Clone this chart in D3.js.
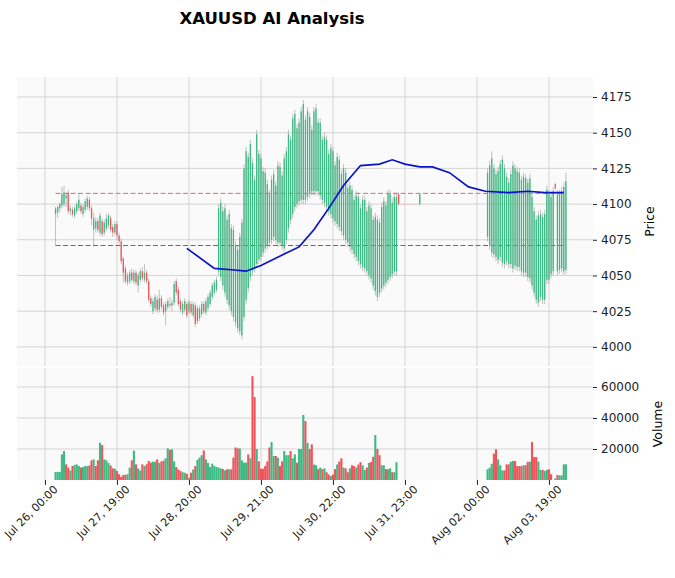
<!DOCTYPE html>
<html>
<head>
<meta charset="utf-8">
<script src="https://cdn.jsdelivr.net/npm/d3@7"></script>
<style>
body { margin: 0; background: #fff; font-family: "DejaVu Sans", sans-serif; }
</style>
</head>
<body>
<script>
let WIDTH = 675;
let HEIGHT = 578;

// bar index of first entry, x tick labels every 34 bars
const START = 5;
const tickIdx = [0, 34, 68, 102, 136, 170, 204, 238];
const tickLabels = ["Jul 26, 00:00", "Jul 27, 19:00", "Jul 28, 20:00", "Jul 29, 21:00",
                    "Jul 30, 22:00", "Jul 31, 23:00", "Aug 02, 00:00", "Aug 03, 19:00"];
const priceTicks = [4000, 4025, 4050, 4075, 4100, 4125, 4150, 4175];
const volTicks = [20000, 40000, 60000];

// i5..i81
const opens1 = [4093,4094,4097,4099,4100,4104,4108,4095,4096,4092, 4095,4097,4099,4093,4096,4098,4103,4097,4082,4083,
  4088,4080,4088,4080,4083,4085,4090,4084,4080,4086, 4078,4074,4062,4055,4045,4046,4052,4046,4052,4043,
  4047,4053,4047,4052,4046,4034,4025,4027,4033,4026, 4034,4029,4025,4028,4030,4029,4031,4046,4040,4032,
  4024,4026,4030,4025,4030,4022,4029,4027,4020,4023, 4030,4024,4027,4030,4035,4038,4040];
const highs1 = [4098,4099,4101,4112,4113,4108,4110,4099,4098,4099, 4102,4107,4101,4100,4104,4106,4105,4099,4094,4091,
  4090,4094,4090,4089,4093,4094,4092,4086,4088,4088, 4080,4076,4063,4057,4052,4054,4055,4054,4054,4052,
  4055,4056,4058,4054,4048,4036,4034,4037,4036,4040, 4036,4031,4032,4034,4035,4033,4046,4048,4042,4034,
  4032,4034,4032,4033,4032,4032,4031,4029,4029,4032, 4032,4034,4037,4040,4045,4047,4049];
const lows1 = [4071,4090,4094,4097,4098,4098,4093,4092,4091,4090, 4093,4095,4093,4091,4094,4096,4095,4085,4071,4080,
  4080,4078,4077,4078,4081,4083,4080,4077,4078,4075, 4072,4058,4045,4044,4043,4044,4045,4044,4043,4038,
  4045,4046,4045,4044,4031,4028,4023,4025,4024,4024, 4026,4022,4015,4026,4027,4025,4029,4036,4028,4024,
  4022,4024,4020,4023,4022,4020,4014,4016,4018,4021, 4023,4022,4025,4028,4033,4036,4038];
const closes1 = [4097,4098,4100,4107,4108,4106,4095,4097,4093,4097, 4100,4103,4095,4098,4102,4104,4097,4090,4090,4088,
  4082,4092,4079,4087,4090,4092,4082,4080,4086,4078, 4074,4060,4052,4046,4050,4052,4047,4052,4045,4050,
  4053,4048,4052,4046,4033,4030,4032,4035,4026,4034, 4028,4024,4030,4032,4029,4031,4044,4038,4030,4026,
  4030,4032,4022,4031,4024,4030,4016,4018,4027,4030, 4025,4032,4035,4038,4043,4045,4047];

// i82..i166
const opens2 = [4053,4049,4043,4038,4033,4029,4025,4021,4017,4013, 4011,4008,4021,4033,4041,4049,4053,4055,4058,4061,
  4063,4066,4069,4071,4073,4075,4077,4075,4073,4073, 4071,4069,4075,4083,4089,4093,4098,4100,4102,4103,
  4103,4103,4105,4107,4109,4109,4109,4109,4106,4103, 4101,4098,4095,4093,4090,4088,4086,4084,4081,4078,
  4075,4073,4070,4068,4065,4063,4060,4058,4056,4055, 4053,4050,4048,4043,4039,4035,4038,4041,4043,4045,
  4047,4049,4051,4053,4053];
const highs2 = [4100,4104,4098,4100,4092,4096,4086,4085,4074,4071, 4080,4090,4128,4140,4136,4145,4132,4120,4152,4138,
  4135,4126,4125,4117,4110,4120,4124,4116,4130,4129, 4123,4135,4140,4152,4148,4163,4166,4156,4160,4168,
  4173,4162,4168,4164,4155,4168,4170,4160,4160,4148, 4150,4148,4138,4142,4140,4130,4136,4134,4124,4128,
  4125,4114,4116,4113,4106,4109,4108,4100,4106,4106, 4098,4102,4100,4092,4094,4092,4090,4101,4105,4102,
  4110,4110,4104,4108,4108];
const lows2 = [4050,4046,4040,4035,4030,4026,4022,4018,4014,4010, 4008,4005,4018,4030,4038,4046,4050,4052,4055,4058,
  4060,4063,4066,4068,4070,4072,4074,4072,4070,4070, 4068,4066,4072,4080,4086,4090,4095,4097,4099,4100,
  4100,4100,4102,4104,4106,4106,4106,4106,4103,4100, 4098,4095,4092,4090,4087,4085,4083,4081,4078,4075,
  4072,4070,4067,4065,4062,4060,4057,4055,4053,4052, 4050,4047,4045,4040,4036,4032,4035,4038,4040,4042,
  4044,4046,4048,4050,4050];
const closes2 = [4097,4101,4095,4097,4089,4093,4083,4082,4071,4068, 4077,4087,4125,4137,4133,4142,4129,4117,4149,4135,
  4132,4123,4122,4114,4107,4117,4121,4113,4127,4126, 4120,4132,4137,4149,4145,4160,4163,4153,4157,4165,
  4170,4159,4165,4161,4152,4165,4167,4157,4157,4145, 4147,4145,4135,4139,4137,4127,4133,4131,4121,4125,
  4122,4111,4113,4110,4103,4106,4105,4097,4103,4103, 4095,4099,4097,4089,4091,4089,4087,4098,4102,4099,
  4107,4107,4101,4105,4105];

// i167..i177 (flat, no volume), i178..i208 no data
const opens3 = [4107,4100,4100,4100,4100,4100,4100,4100,4100,4100,4100];
const highs3 = [4108,4100,4100,4100,4100,4100,4100,4100,4100,4100,4107];
const lows3 = [4099,4100,4100,4100,4100,4100,4100,4100,4100,4100,4099];
const closes3 = [4100,4100,4100,4100,4100,4100,4100,4100,4100,4100,4107];
const GAP = 31;

// i209..i246
const opens4 = [4077,4071,4066,4065,4063,4061,4063,4059,4058,4060, 4058,4058,4055,4057,4056,4056,4053,4052,4052,4049,
  4048,4043,4038,4033,4031,4035,4033,4033,4047,4047, 4051,4053,4114,4053,4054,4055,4053,4054];
const highs4 = [4125,4130,4137,4128,4124,4126,4131,4134,4128,4122, 4118,4124,4130,4128,4126,4125,4120,4122,4121,4118,
  4121,4108,4098,4092,4095,4096,4094,4096,4113,4110, 4108,4112,4115,4110,4110,4112,4115,4122];
const lows4 = [4074,4068,4063,4062,4060,4058,4060,4056,4055,4057, 4055,4055,4052,4054,4053,4053,4050,4049,4049,4046,
  4045,4040,4035,4030,4028,4032,4030,4030,4044,4044, 4048,4050,4110,4050,4051,4052,4050,4051];
const closes4 = [4122,4127,4132,4125,4121,4123,4128,4131,4125,4119, 4115,4121,4127,4125,4123,4122,4117,4119,4118,4115,
  4118,4105,4095,4089,4092,4093,4091,4093,4110,4107, 4105,4109,4111,4107,4107,4109,4112,4116];

const volumes = [
  5200,5200,5200,16500,18700,10100,8000,6200,9000,9700, 10100,9000,8000,8400,9000,9000,9400,12700,13300,9000,
  12700,24000,22500,13300,12700,11000,9400,7500,7300,5800, 3700,2000,3300,3300,3700,8000,12700,19000,10100,7500,
  6200,10100,9000,10100,12300,11200,11800,11800,13300,11000, 12000,12500,14000,20400,19500,19800,12000,8400,6800,5800,
  5000,4700,4000,1500,4700,6800,9000,13000,14500,16000,
  19000,13300,11000,8400,10500,9000,8500,8000,7500,7100, 6200,6900,6900,6900,14400,21000,20400,20400,12700,11200,
  11200,16500,14000,67000,53500,20000,12000,7300,7300,9000, 12000,21000,24500,15500,15500,14400,9000,12000,18700,16000,
  16000,18700,14000,16500,11200,20000,20000,42000,38000,24000, 20000,23000,10000,9500,7000,8000,7000,7500,5000,3500,
  2500,3500,7000,10000,12000,14000,8000,7500,5000,7500, 9500,9000,8000,10000,11500,9500,6500,8000,11000,11600,
  15000,29000,20000,16000,9500,9500,7000,7000,7500,5000, 5000,11500,
  0,0,0,0,0,0,0,0,0,0,0,
  6900,8000,10500,17000,19800,13300,9500,6200,6200,10100, 10100,11800,12300,12300,9000,9000,9000,9500,9500,11800,
  11800,24500,14800,14800,11800,6500,6500,5800,6500,6900, 3700,0,1000,3200,3000,3000,10100,10100];

// moving average line
const maIdx = [67, 80, 88, 95, 102, 113, 120, 127, 134, 141, 149, 158, 164, 170, 177, 183, 191, 200, 208, 219, 228, 236, 245];
const maVal = [4069, 4055, 4054, 4053, 4057, 4065, 4070, 4082, 4097, 4113, 4127, 4128, 4131, 4128, 4126, 4126, 4122, 4112, 4109, 4108, 4109, 4108, 4108];

const hlines = [4107.5, 4071];

// assemble candles
const nulls = n => new Array(n).fill(null);
const O = opens1.concat(opens2, opens3, nulls(GAP), opens4);
const H = highs1.concat(highs2, highs3, nulls(GAP), highs4);
const L = lows1.concat(lows2, lows3, nulls(GAP), lows4);
const C = closes1.concat(closes2, closes3, nulls(GAP), closes4);
const V = volumes.slice(0, 173).concat(nulls(GAP), volumes.slice(173));

var candles = [];
var prevClose = null;
O.forEach(function(o, k) {
  var d = {i: START + k, o: o, h: H[k], l: L[k], c: C[k], v: V[k]};
  if (o != null) {
    d.vup = prevClose == null ? d.c >= d.o : d.c >= prevClose;
    prevClose = d.c;
  }
  candles.push(d);
});

var svg = d3.select("body").append("svg").attr("width", WIDTH).attr("height", HEIGHT);

var left = 17, right = 593;
var pTop = 77, pBot = 366, vTop = 368, vBot = 480;
var x = d3.scaleLinear().domain([-13.2, 258.8]).range([left, right]);
var yP = d3.scaleLinear().domain([3986.6, 4189]).range([pBot, pTop]);
var yV = d3.scaleLinear().domain([0, 72258]).range([vBot, vTop]);

var UP = "#3dba84", DOWN = "#f0545a", GRID = "#d0d0d0";

svg.append("text").attr("x", 272).attr("y", 24).attr("text-anchor", "middle")
  .attr("font-size", 16.5).attr("font-weight", "bold").text("XAUUSD AI Analysis");

[[pTop, pBot], [vTop, vBot]].forEach(function(p) {
  svg.append("rect").attr("x", left).attr("y", p[0]).attr("width", right - left)
    .attr("height", p[1] - p[0]).attr("fill", "#fafafa");
});

// grid
var grid = svg.append("g").attr("stroke", GRID).attr("stroke-width", 0.9);
tickIdx.forEach(function(t) {
  grid.append("line").attr("x1", x(t)).attr("x2", x(t)).attr("y1", pTop).attr("y2", pBot);
  grid.append("line").attr("x1", x(t)).attr("x2", x(t)).attr("y1", vTop).attr("y2", vBot);
});
priceTicks.forEach(function(t) {
  grid.append("line").attr("x1", left).attr("x2", right).attr("y1", yP(t)).attr("y2", yP(t));
});
volTicks.forEach(function(t) {
  grid.append("line").attr("x1", left).attr("x2", right).attr("y1", yV(t)).attr("y2", yV(t));
});

// axes
var axP = svg.append("g").attr("transform", "translate(" + right + ",0)")
  .call(d3.axisRight(yP).tickValues(priceTicks).tickFormat(d3.format("d")).tickSize(4).tickPadding(4));
var axV = svg.append("g").attr("transform", "translate(" + right + ",0)")
  .call(d3.axisRight(yV).tickValues(volTicks).tickFormat(d3.format("d")).tickSize(4).tickPadding(4));
var axX = svg.append("g").attr("transform", "translate(0," + vBot + ")")
  .call(d3.axisBottom(x).tickValues(tickIdx).tickFormat((d, j) => tickLabels[j]).tickSize(5));
[axP, axV, axX].forEach(function(a) {
  a.select(".domain").remove();
  a.selectAll("text").attr("font-size", 12).attr("fill", "#222").attr("font-family", "DejaVu Sans");
  a.selectAll("line").attr("stroke", "#222");
});
axX.selectAll("text").attr("font-size", 11).attr("text-anchor", "end").attr("y", 0).attr("dy", 0)
  .attr("transform", "translate(13,10) rotate(-45)");

svg.append("text").attr("transform", "translate(654," + ((pTop + pBot) / 2) + ") rotate(-90)")
  .attr("text-anchor", "middle").attr("font-size", 12.5).text("Price");
svg.append("text").attr("transform", "translate(662," + ((vTop + vBot) / 2) + ") rotate(-90)")
  .attr("text-anchor", "middle").attr("font-size", 12.5).text("Volume");

// horizontal levels
var i0 = START, i1 = START + O.length - 1;
svg.append("line").attr("x1", x(i0)).attr("x2", x(i1)).attr("y1", yP(hlines[0])).attr("y2", yP(hlines[0]))
  .attr("stroke", "#d47070").attr("stroke-dasharray", "5,2.5").attr("stroke-width", 1);
svg.append("line").attr("x1", x(i0)).attr("x2", x(i1)).attr("y1", yP(hlines[1])).attr("y2", yP(hlines[1]))
  .attr("stroke", "#6b7a1a").attr("stroke-dasharray", "5,2.5").attr("stroke-width", 1);

var valid = candles.filter(d => d.o != null);
var bw = 1.3;

// wicks
svg.append("g").selectAll("line").data(valid).enter().append("line")
  .attr("x1", d => x(d.i)).attr("x2", d => x(d.i))
  .attr("y1", d => yP(d.h)).attr("y2", d => yP(d.l))
  .attr("stroke", "#888").attr("stroke-width", 0.5);

// bodies
svg.append("g").selectAll("rect").data(valid).enter().append("rect")
  .attr("x", d => x(d.i) - bw / 2).attr("width", bw)
  .attr("y", d => yP(Math.max(d.o, d.c)))
  .attr("height", d => Math.max(0.6, Math.abs(yP(d.o) - yP(d.c))))
  .attr("fill", d => d.c >= d.o && d.c != d.o ? UP : (d.c == d.o ? "#f3a0a0" : DOWN));

// moving average
svg.append("path").datum(maIdx.map((m, j) => [m, maVal[j]]))
  .attr("d", d3.line().x(d => x(d[0])).y(d => yP(d[1])))
  .attr("fill", "none").attr("stroke", "#0a12c8").attr("stroke-width", 1.7);

// volume
svg.append("g").selectAll("rect").data(valid.filter(d => d.v > 0)).enter().append("rect")
  .attr("x", d => x(d.i) - 1.05).attr("width", 2.1)
  .attr("y", d => yV(d.v)).attr("height", d => vBot - yV(d.v))
  .attr("fill", d => d.vup ? UP : DOWN);
</script>
</body>
</html>
